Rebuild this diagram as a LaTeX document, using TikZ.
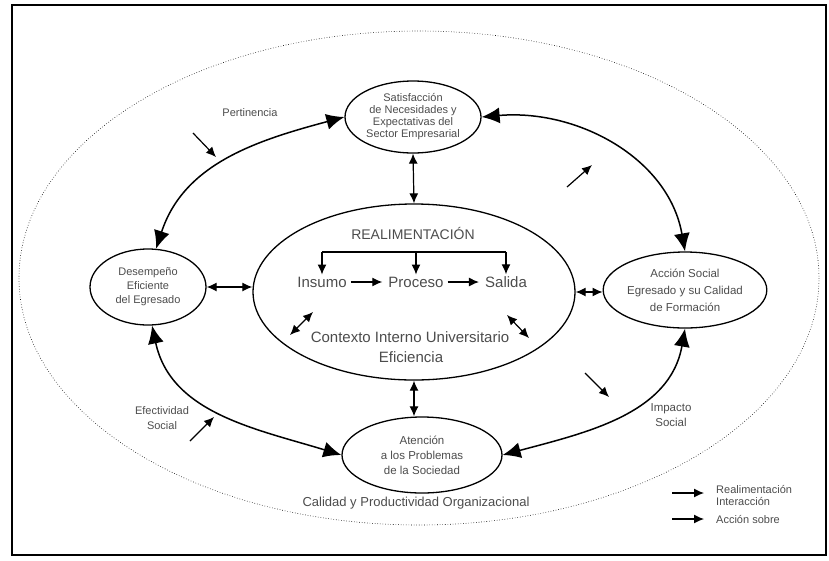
\documentclass[tikz,border=0pt]{standalone}
\usepackage{fontspec}
\setmainfont{Liberation Sans}
\usetikzlibrary{shapes.geometric,arrows.meta}

\begin{document}
\begin{tikzpicture}[x=1pt,y=-1pt,
		nodo/.style={ellipse, draw, line width=1.3pt, inner sep=0pt, align=center, text=black!70},
		texto/.style={text=black!70, align=center, inner sep=2pt},
		curva/.style={{Latex[length=18pt,width=16pt]}-{Latex[length=18pt,width=16pt]}, line width=1.5pt},
		doble/.style={{Latex[length=10pt,width=9pt]}-{Latex[length=10pt,width=9pt]}, line width=1.2pt},
		accion/.style={-{Latex[length=10pt,width=9pt]}, line width=1.2pt}]
			\useasboundingbox (0,0) rectangle (829,560);
			
			% Рамка
			\draw[line width=1.6pt] (12,5) rectangle (826,555);
			
			% Пунктирный эллипс
			\draw[dotted, line width=0.6pt] (419,278) ellipse [x radius=400, y radius=247];
			
			% Эллипсы
			\node[nodo, minimum width=136pt, minimum height=72pt, font=\fontsize{11}{12}\selectfont] (sat) at (413,117) {Satisfacción\\de Necesidades y\\Expectativas del\\Sector Empresarial};
			\node[nodo, minimum width=116pt, minimum height=76pt, font=\fontsize{11}{14}\selectfont] (des) at (148,287) {Desempeño\\Eficiente\\del Egresado};
			\node[nodo, minimum width=136pt, minimum height=76pt, font=\fontsize{11.5}{17}\selectfont] (acc) at (685,290) {Acción Social\\Egresado y su Calidad\\de Formación};
			\node[nodo, minimum width=160pt, minimum height=76pt, font=\fontsize{11.5}{15}\selectfont] (atn) at (422,455) {Atención\\a los Problemas\\de la Sociedad};
			\node[nodo, minimum width=322pt, minimum height=176pt] (cen) at (414,292) {};
			
			% Внутри центрального эллипса
			\node[texto, font=\fontsize{14}{16}\selectfont] (rea) at (413,233) {REALIMENTACIÓN};
			\node[texto, font=\fontsize{15}{17}\selectfont] (ins) at (322,282) {Insumo};
			\node[texto, font=\fontsize{15}{17}\selectfont] (pro) at (416,282) {Proceso};
			\node[texto, font=\fontsize{15}{17}\selectfont] (sal) at (506,282) {Salida};
			\node[texto, font=\fontsize{15}{17}\selectfont] (ctx) at (410,337) {Contexto Interno Universitario};
			\node[texto, font=\fontsize{15}{17}\selectfont] (efi) at (411,357) {Eficiencia};
			
			\coordinate (barra) at (0,252);
			\draw[line width=1.2pt] (ins.north |- barra) -- (sal.north |- barra);
			\foreach \n in {ins,pro,sal}
				\draw[accion] (\n.north |- barra) -- (\n.north);
			\draw[accion, shorten <=2pt, shorten >=4pt] (ins) -- (pro);
			\draw[accion, shorten <=2pt, shorten >=4pt] (pro) -- (sal);
			
			\coordinate (d1a) at (290,335);
			\coordinate (d1b) at (313,312);
			\coordinate (d2a) at (507,315);
			\coordinate (d2b) at (529,338);
			\draw[doble] (d1a) -- (d1b);
			\draw[doble] (d2a) -- (d2b);
			
			% Прямые двойные стрелки
			\draw[doble] (sat.south) -- (cen.north);
			\draw[doble] (cen.south) -- (cen.south |- atn.north);
			\draw[doble] (des.east) -- (des.east -| cen.west);
			\draw[doble] (cen.east) -- (cen.east -| acc.west);
			
			% Дуги
			\draw[curva] (des.78) to[out=72,in=195] (sat.west);
			\draw[curva] (sat.east) to[out=5,in=100] (acc.north);
			\draw[curva] (acc.south) to[out=-100,in=15] (atn.east);
			\draw[curva] (des.-84) to[out=-78,in=163] (atn.west);
			
			% Действия
			\coordinate (a1s) at (193,133);
			\coordinate (a1e) at (216,157);
			\coordinate (a2s) at (567,187);
			\coordinate (a2e) at (592,165);
			\coordinate (a3s) at (585,373);
			\coordinate (a3e) at (609,397);
			\coordinate (a4s) at (190,441);
			\coordinate (a4e) at (214,417);
			\foreach \i in {1,...,4}
				\draw[accion] (a\i s) -- (a\i e);
			
			% Подписи
			\node[texto, font=\fontsize{11}{13}\selectfont] (per) at (250,113) {Pertinencia};
			\node[texto, font=\fontsize{11}{15}\selectfont] (efe) at (162,418) {Efectividad\\Social};
			\node[texto, font=\fontsize{11.5}{15}\selectfont] (imp) at (671,415) {Impacto\\Social};
			\node[texto, font=\fontsize{13}{15}\selectfont] (cal) at (416,503) {Calidad y Productividad Organizacional};
			
			% Легенда
			\coordinate (l1s) at (672,493);
			\coordinate (l1e) at (704,493);
			\coordinate (l2s) at (672,519);
			\coordinate (l2e) at (704,519);
			\draw[accion] (l1s) -- (l1e);
			\draw[accion] (l2s) -- (l2e);
			\node[texto, anchor=west, align=left, font=\fontsize{11}{12}\selectfont] (ley1) at (714,495) {Realimentación\\Interacción};
			\node[texto, anchor=west, font=\fontsize{11}{12}\selectfont] (ley2) at (714,519) {Acción sobre};
		\end{tikzpicture}
\end{document}
